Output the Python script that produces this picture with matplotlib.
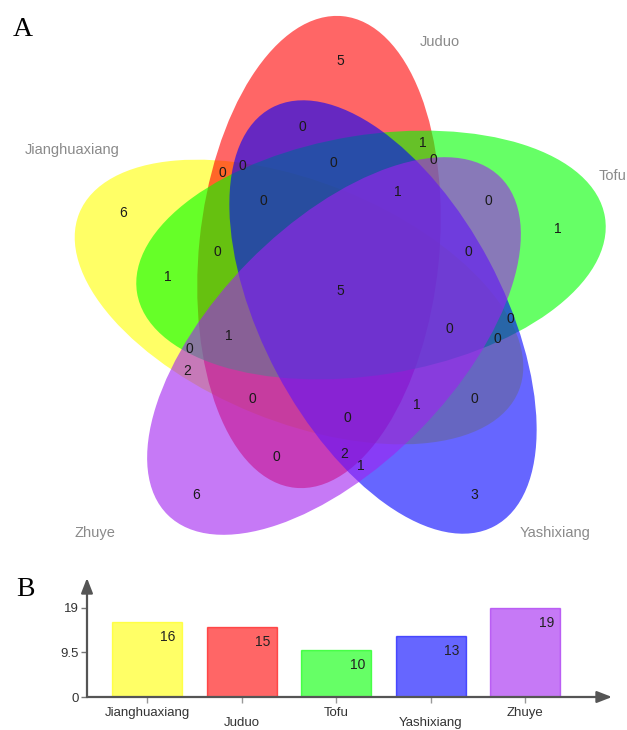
import matplotlib
matplotlib.use("Agg")
import matplotlib.pyplot as plt
from matplotlib.patches import Ellipse

# Sets, their colours and sizes
set_names = ["Jianghuaxiang", "Juduo", "Tofu", "Yashixiang", "Zhuye"]
set_colors = ["#FFFF00", "#FF0000", "#00FF00", "#0000FF", "#A020F0"]
set_totals = [16, 15, 10, 13, 19]

# Counts of every Venn region (read left-to-right, top-to-bottom)
region_counts = [5, 6, 1, 6, 3, 5,
                 0, 1, 0, 0, 0, 0, 0, 1, 0, 0, 1, 0,
                 1, 0, 2, 0, 0, 0, 0, 0, 1, 0, 0, 2, 1]

# Label spots for the region counts, in figure pixels (y down)
region_xy = [(340, 61), (123, 213), (558, 229), (196, 495), (474, 495), (340, 291),
             (302, 127), (423, 143), (433, 160), (222, 173), (242, 166), (333, 163),
             (263, 201), (398, 192), (488, 201), (217, 252), (168, 277), (468, 252),
             (229, 336), (189, 349), (187, 371), (449, 329), (510, 319), (497, 339),
             (252, 399), (347, 418), (417, 405), (474, 399), (276, 457), (344, 454),
             (361, 466)]

# ellipse geometry: centre (px), angle of the long axis (deg, counter-clockwise)
ell_center = [(299, 302), (319, 252), (371, 255), (383, 317), (334, 346)]
ell_angle = [-22, 84.2, 9.2, -62, 45.5]
ell_w, ell_h = 474, 240
name_xy = [(72, 150), (440, 42), (613, 176), (555, 533), (95, 533)]

W, H = 627, 730
fig = plt.figure(figsize=(W / 100, H / 100), dpi=100)
plt.rcParams['font.family'] = ['Liberation Sans', 'DejaVu Sans']

# --- A: five-set Venn ---
ax = fig.add_axes([0, 0, 1, 1])
ax.set_xlim(0, W)
ax.set_ylim(H, 0)
ax.axis('off')

# draw order gives the mixed colours: yellow, red, green, blue, purple on top
for c, ang, col in zip(ell_center, ell_angle, set_colors):
    ax.add_patch(Ellipse(c, ell_w, ell_h, angle=-ang, facecolor=col,
                         alpha=0.6, edgecolor='none'))

for n, (x, y) in zip(region_counts, region_xy):
    ax.text(x, y, str(n), ha='center', va='center', fontsize=10, color='#1a1a1a')

for name, (x, y) in zip(set_names, name_xy):
    ax.text(x, y, name, ha='center', va='center', fontsize=10.5, color='#8a8a8a')

fig.text(23 / W, 1 - 30 / H, "A", family='Liberation Serif', fontsize=20,
         ha='center', va='center')
fig.text(25 / W, 1 - 590 / H, "B", family='Liberation Serif', fontsize=20,
         ha='center', va='center')

# --- B: set sizes ---
bx = fig.add_axes([87 / W, 1 - 697 / H, (612 - 87) / W, (697 - 578) / H])
bx.patch.set_alpha(0)
xs = list(range(len(set_names)))
bx.bar(xs, set_totals, width=0.74, color=set_colors, alpha=0.6,
       edgecolor=set_colors, linewidth=1, zorder=2)
bx.set_xlim(-0.634, 4.915)
bx.set_ylim(0, 25.4)
for s in bx.spines.values():
    s.set_visible(False)

bx.set_yticks([0, 9.5, 19])
bx.set_yticklabels(["0", "9.5", "19"], fontsize=9.5, color='#333333')
bx.tick_params(axis='y', length=4, width=1, color='#777777', pad=2)
bx.set_xticks(xs)
bx.set_xticklabels([""] * len(xs))
bx.tick_params(axis='x', length=4, width=1, color='#999999')

arrow = dict(arrowstyle='-|>,head_length=0.9,head_width=0.35', color='#555555',
             lw=1.6, shrinkA=0, shrinkB=0)
bx.annotate('', xy=(1, 0), xytext=(0, 0), xycoords='axes fraction',
            arrowprops=arrow, zorder=3)
bx.annotate('', xy=(0, 1), xytext=(0, 0), xycoords='axes fraction',
            arrowprops=arrow, zorder=3)

for i, (name, v) in enumerate(zip(set_names, set_totals)):
    bx.annotate(str(v), xy=(i + 0.37, v), xytext=(-10, -11),
                textcoords='offset points', ha='center', va='center',
                fontsize=10, color='#222222')
    drop = -11.5 if i % 2 == 0 else -18.5
    bx.annotate(name, xy=(i, 0), xytext=(0, drop), textcoords='offset points',
                ha='center', va='center', fontsize=9.5, color='#333333',
                annotation_clip=False)

fig.savefig("out.png", dpi=100)
